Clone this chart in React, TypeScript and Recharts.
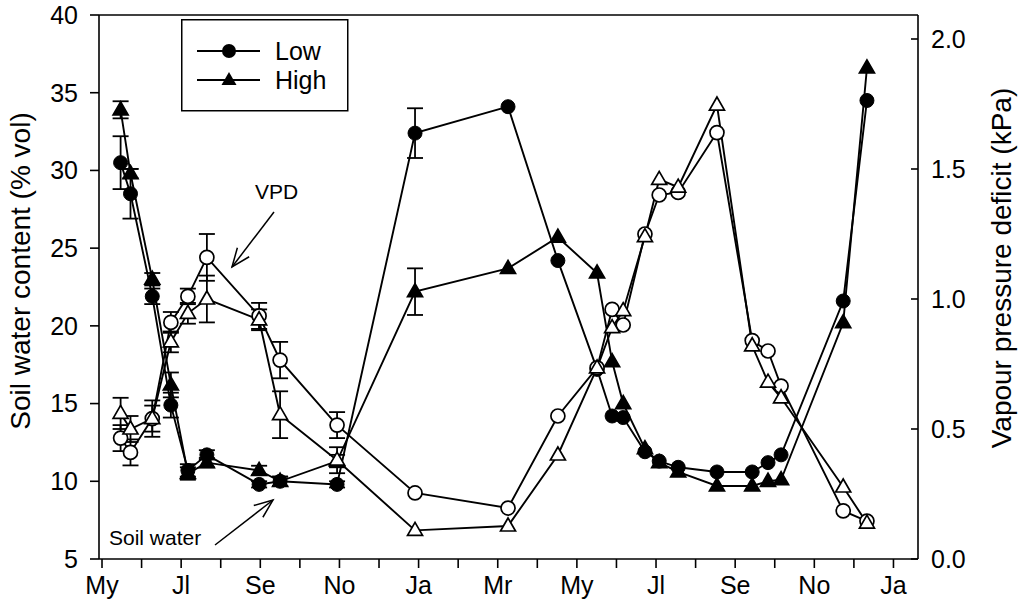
import React from 'react';
import {
  ComposedChart,
  Line,
  XAxis,
  YAxis,
  ErrorBar,
  ReferenceLine,
  Legend,
} from 'recharts';

const FONT = "Arial, 'Liberation Sans', sans-serif";

// sampling dates, in months from 1 May of the first year
const months = [
  0.47, 0.72, 1.27, 1.74, 2.17, 2.65, 3.97, 4.5, 5.94, 7.91, 10.26, 11.52,
  12.51, 12.89, 13.17, 13.72, 14.08, 14.56, 15.54, 16.43, 16.83, 17.16, 18.73, 19.33,
];

// soil water content (% vol), left axis
const soilLow = [
  30.5, 28.5, 21.9, 14.9, 10.7, 11.7, 9.8, 10.0, 9.8, 32.4, 34.1, 24.2,
  17.2, 14.2, 14.1, 11.9, 11.3, 10.9, 10.6, 10.6, 11.2, 11.7, 21.6, 34.5,
];
const soilLowErr = [1.7, 1.6, 0.5, 0.8, 0.4, 0.3, 0.2, 0.3, 0.2, 1.6];
const soilHigh = [
  33.9, 29.8, 23.0, 16.2, 10.5, 11.2, 10.7, 10.0, 11.3, 22.2, 23.7, 25.7,
  23.4, 17.7, 15.0, 12.1, 11.2, 10.6, 9.7, 9.7, 10.0, 10.1, 20.2, 36.6,
];
const soilHighErr = [0.55, 0.3, 0.4, 0.8, 0.4, 0.3, 0.3, 0.3, 0.4, 1.5];

// vapour pressure deficit (kPa), right axis
const vpdLow = [
  0.465, 0.41, 0.54, 0.91, 1.01, 1.16, 0.935, 0.765, 0.515, 0.254, 0.196, 0.55,
  0.735, 0.96, 0.9, 1.25, 1.4, 1.41, 1.64, 0.84, 0.8, 0.665, 0.185, 0.146,
];
const vpdLowErr = [0.05, 0.05, 0.07, 0.04, 0.03, 0.09, 0.05, 0.07, 0.05];
const vpdHigh = [
  0.56, 0.5, 0.54, 0.835, 0.945, 1.0, 0.92, 0.555, 0.38, 0.11, 0.127, 0.4,
  0.735, 0.89, 0.955, 1.24, 1.46, 1.43, 1.746, 0.82, 0.68, 0.62, 0.277, 0.138,
];
const vpdHighErr = [0.06, 0.05, 0.05, 0.04, 0.04, 0.09, 0.04, 0.09, 0.05];

const monthTicks = [0, 1, 2, 3, 4, 5, 6, 7, 8, 9, 10, 11, 12, 13, 14, 15, 16, 17, 18, 19, 20];
const monthLabels = [
  'My', '', 'Jl', '', 'Se', '', 'No', '', 'Ja', '', 'Mr', '',
  'My', '', 'Jl', '', 'Se', '', 'No', '', 'Ja',
];
const soilTicks = [5, 10, 15, 20, 25, 30, 35, 40];
const vpdTicks = [0, 0.5, 1.0, 1.5, 2.0];

const legendItems = [
  { label: 'Low', shape: 'circle' },
  { label: 'High', shape: 'triangle' },
];

const data = months.map((m, i) => ({
  month: m,
  soilLow: soilLow[i],
  soilLowErr: soilLowErr[i],
  soilHigh: soilHigh[i],
  soilHighErr: soilHighErr[i],
  vpdLow: vpdLow[i],
  vpdLowErr: vpdLowErr[i],
  vpdHigh: vpdHigh[i],
  vpdHighErr: vpdHighErr[i],
}));

const triPoints = (cx: number, cy: number) =>
  `${cx},${cy - 8} ${cx - 7.5},${cy + 5} ${cx + 7.5},${cy + 5}`;

const triangleDot = (fill: string) => (props: any) => {
  const { cx, cy, index } = props;
  if (cx == null || cy == null) return <g key={`t-${index}`} />;
  return (
    <polygon
      key={`t-${index}`}
      points={triPoints(cx, cy)}
      fill={fill}
      stroke="#000"
      strokeWidth={1.7}
    />
  );
};

function LegendBox() {
  return (
    <svg width={168} height={93} style={{ display: 'block' }}>
      <rect x={0.75} y={0.75} width={166} height={91} fill="#fff" stroke="#000" strokeWidth={1.5} />
      {legendItems.map((item, i) => {
        const y = 32 + i * 29;
        return (
          <g key={item.label}>
            <line x1={16} x2={79} y1={y} y2={y} stroke="#000" strokeWidth={1.9} />
            {item.shape === 'circle' ? (
              <circle cx={48} cy={y} r={7} fill="#000" />
            ) : (
              <polygon points={triPoints(48, y)} fill="#000" />
            )}
            <text x={94} y={y + 8.5} fontSize={25} fontFamily={FONT} fill="#000">
              {item.label}
            </text>
          </g>
        );
      })}
    </svg>
  );
}

function arrow(x1: number, y1: number, x2: number, y2: number) {
  const a = Math.atan2(y2 - y1, x2 - x1);
  const len = 20;
  const spread = 0.38;
  const p1 = [x2 - len * Math.cos(a - spread), y2 - len * Math.sin(a - spread)];
  const p2 = [x2 - len * Math.cos(a + spread), y2 - len * Math.sin(a + spread)];
  return (
    <g stroke="#000" strokeWidth={1.5} fill="none">
      <line x1={x1} y1={y1} x2={x2} y2={y2} />
      <polyline points={`${p1[0]},${p1[1]} ${x2},${y2} ${p2[0]},${p2[1]}`} />
    </g>
  );
}

function Overlay() {
  return (
    <svg
      width={1024}
      height={605}
      style={{ position: 'absolute', left: 0, top: 0, pointerEvents: 'none' }}
    >
      <text
        transform="translate(20,271) rotate(-90)"
        textAnchor="middle"
        dominantBaseline="central"
        fontSize={28}
        fontFamily={FONT}
        fill="#000"
      >
        Soil water content (% vol)
      </text>
      <text
        transform="translate(1001,268) rotate(-90)"
        textAnchor="middle"
        dominantBaseline="central"
        fontSize={28}
        fontFamily={FONT}
        fill="#000"
      >
        Vapour pressure deficit (kPa)
      </text>
      <text x={255} y={199} fontSize={21} fontFamily={FONT} fill="#000">
        VPD
      </text>
      {arrow(274, 212, 232, 267)}
      <text x={109} y={545} fontSize={21} fontFamily={FONT} fill="#000">
        Soil water
      </text>
      {arrow(215, 545, 273, 500)}
    </svg>
  );
}

export default function App() {
  const tickStyle = { fill: '#000', fontSize: 25, fontFamily: FONT };
  const axisLine = { stroke: '#000', strokeWidth: 1.6 };
  return (
    <div style={{ position: 'relative', width: 1024, height: 605, background: '#fff' }}>
      <style>{'body{margin:0}'}</style>
      <ComposedChart
        width={1024}
        height={605}
        data={data}
        margin={{ top: 15, right: 10, bottom: 10, left: 10 }}
      >
        <XAxis
          dataKey="month"
          type="number"
          domain={[-0.076, 20.62]}
          allowDataOverflow
          ticks={monthTicks}
          interval={0}
          tickFormatter={(v: number) => monthLabels[Math.round(v)] ?? ''}
          height={36}
          tickSize={9}
          tickMargin={8}
          tick={tickStyle}
          axisLine={axisLine}
          tickLine={axisLine}
        />
        <YAxis
          yAxisId="left"
          domain={[5, 40]}
          ticks={soilTicks}
          interval={0}
          width={89}
          tickSize={9}
          tickMargin={12}
          tick={tickStyle}
          axisLine={axisLine}
          tickLine={axisLine}
        />
        <YAxis
          yAxisId="right"
          orientation="right"
          domain={[0, 2.0923]}
          allowDataOverflow
          ticks={vpdTicks}
          interval={0}
          width={96}
          tickSize={-7}
          tickMargin={20}
          tickFormatter={(v: number) => v.toFixed(1)}
          tick={tickStyle}
          axisLine={axisLine}
          tickLine={axisLine}
        />
        <ReferenceLine yAxisId="left" y={40} stroke="#000" strokeWidth={1.6} />
        <Legend
          layout="horizontal"
          verticalAlign="middle"
          align="center"
          content={() => <LegendBox />}
          wrapperStyle={{ position: 'absolute', left: 181, top: 19, width: 168, height: 93 }}
        />
        <Line
          yAxisId="left"
          dataKey="soilLow"
          stroke="#000"
          strokeWidth={1.9}
          dot={{ r: 7, fill: '#000', stroke: '#000', strokeWidth: 1 }}
          isAnimationActive={false}
        >
          <ErrorBar dataKey="soilLowErr" direction="y" width={8} stroke="#000" strokeWidth={1.8} />
        </Line>
        <Line
          yAxisId="left"
          dataKey="soilHigh"
          stroke="#000"
          strokeWidth={1.9}
          dot={triangleDot('#000')}
          isAnimationActive={false}
        >
          <ErrorBar dataKey="soilHighErr" direction="y" width={8} stroke="#000" strokeWidth={1.8} />
        </Line>
        <Line
          yAxisId="right"
          dataKey="vpdLow"
          stroke="#000"
          strokeWidth={1.9}
          dot={{ r: 7, fill: '#fff', stroke: '#000', strokeWidth: 1.7 }}
          isAnimationActive={false}
        >
          <ErrorBar dataKey="vpdLowErr" direction="y" width={8} stroke="#000" strokeWidth={1.8} />
        </Line>
        <Line
          yAxisId="right"
          dataKey="vpdHigh"
          stroke="#000"
          strokeWidth={1.9}
          dot={triangleDot('#fff')}
          isAnimationActive={false}
        >
          <ErrorBar dataKey="vpdHighErr" direction="y" width={8} stroke="#000" strokeWidth={1.8} />
        </Line>
      </ComposedChart>
      <Overlay />
    </div>
  );
}
